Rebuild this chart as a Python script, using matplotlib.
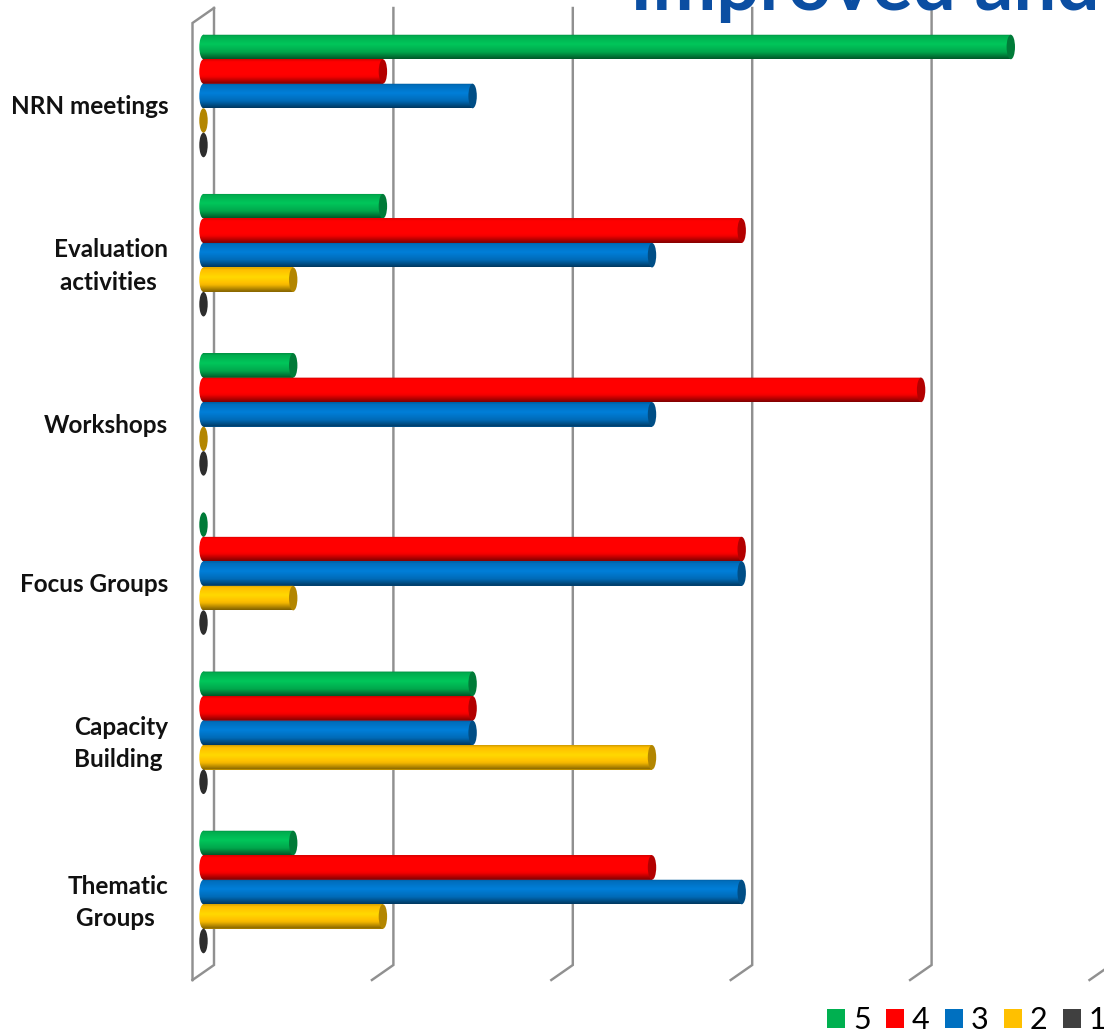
"""
Horizontal 3D-look cylinder bars of ratings per activity.
"""

import numpy as np
import matplotlib
matplotlib.use("Agg")
import matplotlib.pyplot as plt
from matplotlib.patches import Ellipse, Patch
from matplotlib.path import Path
from matplotlib.transforms import Affine2D, ScaledTranslation

plt.rcParams["font.family"] = ["Lato", "DejaVu Sans"]

categories = ["NRN meetings", "Evaluation\nactivities ", "Workshops", "Focus Groups",
              "Capacity\nBuilding ", "Thematic\nGroups "]
rating_labels = ["5", "4", "3", "2", "1"]
rating_5 = [9, 2, 1, 0, 3, 1]
rating_4 = [2, 6, 8, 6, 3, 5]
rating_3 = [3, 5, 5, 6, 3, 6]
rating_2 = [0, 1, 0, 1, 5, 2]
rating_1 = [0, 0, 0, 0, 0, 0]
colors = ["#00B050", "#FF0000", "#0070C0", "#FFC000", "#404040"]
value_ticks = [0, 2, 4, 6, 8, 10]

W, H = 1104, 1031
PX_X = 89.7     # pixels per value unit
PX_Y = 159.2    # pixels per category
X0 = 203.5      # pixel of value 0
Y0 = 96.0       # pixel of first category centre
BAR_H = 24.5 / PX_Y
CAP_W = 4.2 / PX_X
GRID = "#909090"


def cylinder_shade(color, n=64):
    """Vertical shading image of one bar, top row first."""
    base = np.array(matplotlib.colors.to_rgb(color))
    t = np.linspace(0, 1, n)
    f = np.interp(t, [0, 0.08, 0.4, 0.72, 1], [0.8, 0.98, 1.13, 0.95, 0.5])
    return np.clip(f[:, None, None] * base[None, None, :], 0, 1)


fig = plt.figure(figsize=(W / 100, H / 100), dpi=100)
ax = fig.add_axes([192 / W, 0, (W - 192) / W, 1])
ax.set_xlim((192 - X0) / PX_X, (W - X0) / PX_X)
ax.set_ylim((H - Y0) / PX_Y, -Y0 / PX_Y)
for spine in ax.spines.values():
    spine.set_visible(False)
ax.set_xticks([])
ax.set_facecolor("none")

# walls and gridlines
off = 10.5 / PX_X
depth = 21.5 / PX_X
back_top = (8 - Y0) / PX_Y
back_bot = (965 - Y0) / PX_Y
front_top = (23 - Y0) / PX_Y
front_bot = (980 - Y0) / PX_Y
for v in value_ticks:
    ax.plot([v + off - depth, v + off, v + off], [front_bot, back_bot, back_top],
            color=GRID, lw=1.75, zorder=1, clip_on=False, solid_joinstyle="miter")
ax.plot([off - depth, off - depth, off], [front_bot, front_top, back_top],
        color=GRID, lw=1.75, zorder=1, clip_on=False, solid_joinstyle="miter")

# bars
series = [rating_5, rating_4, rating_3, rating_2, rating_1]
pos = np.arange(len(categories))
for s, (vals, color) in enumerate(zip(series, colors)):
    yc = pos + (s - 2) * BAR_H
    bars = ax.barh(yc, vals, height=BAR_H, color=color, zorder=3 + s * 0.1)
    shade = cylinder_shade(color)
    cap = np.array(matplotlib.colors.to_rgb(color)) * 0.7
    for bar, y, v in zip(bars, yc, vals):
        if v > 0:
            im = ax.imshow(shade, extent=(-CAP_W, v + CAP_W, y + BAR_H / 2, y - BAR_H / 2),
                           aspect="auto", interpolation="bilinear", zorder=3 + s * 0.1)
            body = Path.unit_rectangle().transformed(
                Affine2D().scale(v, BAR_H).translate(0, y - BAR_H / 2))
            end_l = Path.unit_circle().transformed(
                Affine2D().scale(CAP_W, BAR_H / 2).translate(0, y))
            im.set_clip_path(Path.make_compound_path(body, end_l), ax.transData)
        ax.add_patch(Ellipse((v, y), 2 * CAP_W, BAR_H, facecolor=cap, edgecolor="none",
                             zorder=3.05 + s * 0.1))

# imshow resets the limits
ax.set_xlim((192 - X0) / PX_X, (W - X0) / PX_X)
ax.set_ylim((H - Y0) / PX_Y, -Y0 / PX_Y)

ax.set_yticks(pos, categories, fontsize=17.5, fontweight="bold", color="#111111")
ax.tick_params(axis="y", length=0, pad=17)
for label in ax.get_yticklabels():
    # labels sit a little below the group centre, two-line ones less so
    down = 4 if "\n" in label.get_text() else 9
    label.set_multialignment("center")
    label.set_linespacing(1.5)
    label.set_transform(label.get_transform()
                        + ScaledTranslation(0, -down / 100, fig.dpi_scale_trans))

# title runs off the top of the picture
fig.text(630 / W, 1 - 10 / H, "Improved and", fontsize=55, fontweight="bold",
         color="#0B4EA2", ha="left", va="baseline")

handles = [Patch(facecolor=c, edgecolor="none") for c in colors]
fig.legend(handles, rating_labels, loc="lower left", bbox_to_anchor=(827 / W, -3 / H),
           ncols=5, frameon=False, fontsize=22, handlelength=0.59, handleheight=0.59,
           handletextpad=0.26, columnspacing=0.5, borderpad=0, borderaxespad=0)

fig.savefig("out.png", dpi=100)
